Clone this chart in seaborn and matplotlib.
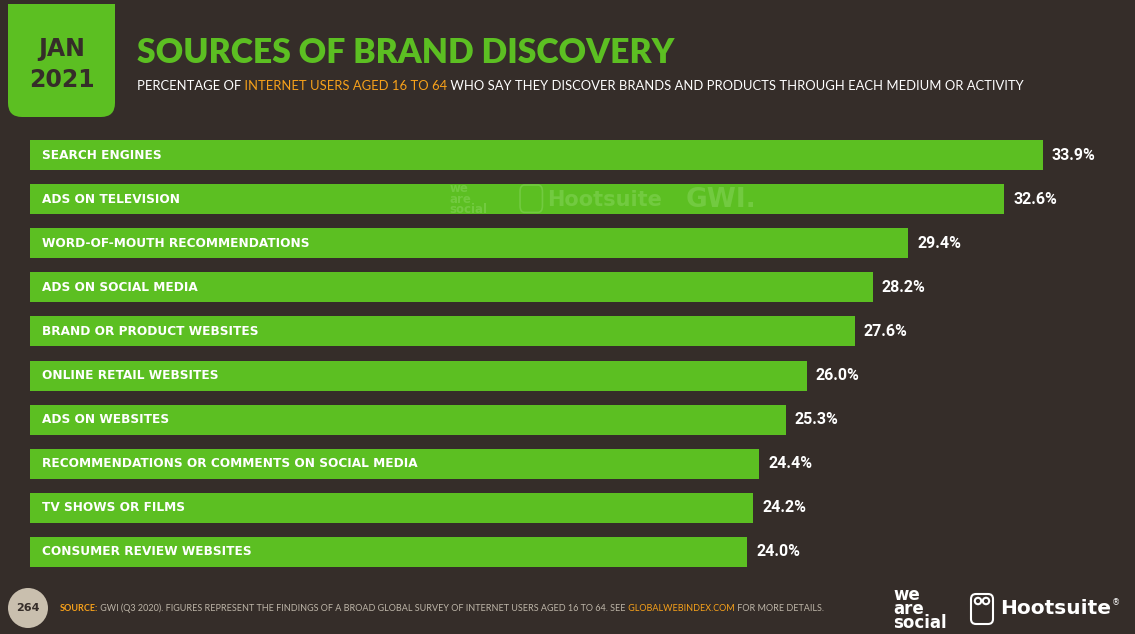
import pandas as pd
import matplotlib.pyplot as plt
import seaborn as sns
from matplotlib.patches import FancyBboxPatch, Circle, Rectangle
from matplotlib.transforms import IdentityTransform

sources = ['SEARCH ENGINES', 'ADS ON TELEVISION', 'WORD-OF-MOUTH RECOMMENDATIONS',
           'ADS ON SOCIAL MEDIA', 'BRAND OR PRODUCT WEBSITES', 'ONLINE RETAIL WEBSITES',
           'ADS ON WEBSITES', 'RECOMMENDATIONS OR COMMENTS ON SOCIAL MEDIA',
           'TV SHOWS OR FILMS', 'CONSUMER REVIEW WEBSITES']
shares = [33.9, 32.6, 29.4, 28.2, 27.6, 26.0, 25.3, 24.4, 24.2, 24.0]

BG = '#352d29'
GREEN = '#5cbf22'
ORANGE = '#f7a11a'
W, H = 1135, 634

df = pd.DataFrame({'source': sources, 'share': shares})

fig = plt.figure(figsize=(W / 100, H / 100), dpi=100, facecolor=BG)
px = IdentityTransform()

# bar area: x=30px is 0%, ~29.88 px per percent
ax = fig.add_axes([30 / W, 1 - 574 / H, 1 - 30 / W, (574 - 133) / H])
ax.set_facecolor(BG)
sns.barplot(data=df, x='share', y='source', orient='h', color=GREEN, saturation=1,
            width=0.68, ax=ax)
ax.set_xlim(0, (W - 30) / 29.88)
ax.set_ylim(9.5, -0.5)
ax.axis('off')

for i, (s, v) in enumerate(zip(sources, shares)):
    ax.text(0.4, i, s, color='white', fontsize=8.7, fontweight='bold',
            family='DejaVu Sans', va='center', ha='left')
    ax.text(v + 0.3, i, f'{v:.1f}%', color='white', fontsize=11.5, fontweight='bold',
            family='Roboto', va='center', ha='left')

# faint watermark inside second bar
wm = '#72ca40'
ax.text(14.05, 1, 'we\nare\nsocial', color=wm, fontsize=8.5, fontweight='bold',
        linespacing=0.72, va='center', ha='left', family='DejaVu Sans')
ax.add_patch(FancyBboxPatch((16.4, 0.68), 0.75, 0.62, boxstyle='round,pad=0,rounding_size=0.15',
                            facecolor='none', edgecolor=wm, linewidth=1.2))
ax.text(17.3, 1.02, 'Hootsuite', color=wm, fontsize=15, fontweight='bold',
        va='center', ha='left', family='DejaVu Sans')
ax.text(21.95, 1.02, 'GWI.', color=wm, fontsize=19, fontweight='heavy',
        va='center', ha='left', family='DejaVu Sans')

# date badge
fig.add_artist(FancyBboxPatch((8, H - 117), 107, 113, boxstyle='round,pad=0,rounding_size=14',
                              transform=px, facecolor=GREEN, edgecolor='none'))
fig.add_artist(Rectangle((8, H - 40), 107, 36, transform=px, facecolor=GREEN, edgecolor='none'))
fig.text(62 / W, 1 - 49 / H, 'JAN', color=BG, fontsize=17, fontweight='bold',
         ha='center', va='center', family='DejaVu Sans')
fig.text(62 / W, 1 - 80 / H, '2021', color=BG, fontsize=17, fontweight='bold',
         ha='center', va='center', family='DejaVu Sans')

# title
fig.text(137 / W, 1 - 53 / H, 'SOURCES OF BRAND DISCOVERY', color=GREEN, fontsize=24.3,
         fontweight='heavy', family='Lato', ha='left', va='center')


def chain(parts, x, y, size, weight='normal'):
    t = fig.text(x, y, parts[0][0], color=parts[0][1], fontsize=size, family='Lato',
                 fontweight=weight if len(parts[0]) < 3 else parts[0][2], ha='left', va='bottom')
    for p in parts[1:]:
        t = ax.annotate(p[0], xy=(1, 0), xycoords=t, color=p[1], fontsize=size, family='Lato',
                        fontweight=weight if len(p) < 3 else p[2], ha='left', va='bottom')
    return t


chain([('PERCENTAGE OF', 'white'),
       (' INTERNET USERS AGED 16 TO 64', ORANGE),
       (' WHO SAY THEY DISCOVER BRANDS AND PRODUCTS THROUGH EACH MEDIUM OR ACTIVITY', 'white')],
      137 / W, 1 - 92 / H, 9.4)

# footer
fig.add_artist(Circle((28, H - 608), 20, transform=px, facecolor='#c9bfae', edgecolor='none'))
fig.text(28 / W, 1 - 608 / H, '264', color=BG, fontsize=8, fontweight='bold',
         ha='center', va='center', family='DejaVu Sans')
chain([('SOURCE:', ORANGE, 'bold'),
       (' GWI (Q3 2020). FIGURES REPRESENT THE FINDINGS OF A BROAD GLOBAL SURVEY OF INTERNET USERS AGED 16 TO 64. SEE', '#bdb5a8'),
       (' GLOBALWEBINDEX.COM', ORANGE),
       (' FOR MORE DETAILS.', '#bdb5a8')],
      60 / W, 1 - 613 / H, 6.5)

fig.text(893 / W, 1 - 609 / H, 'we\nare\nsocial', color='white', fontsize=12, fontweight='bold',
         linespacing=0.7, ha='left', va='center', family='DejaVu Sans')
fig.add_artist(FancyBboxPatch((971, H - 624), 22, 30, boxstyle='round,pad=0,rounding_size=5',
                              transform=px, facecolor='none', edgecolor='white', linewidth=1.5))
for cx in (978, 986):
    fig.add_artist(Circle((cx, H - 601), 3.2, transform=px, facecolor='none',
                          edgecolor='white', linewidth=1.5))
fig.text(1000 / W, 1 - 608 / H, 'Hootsuite', color='white', fontsize=14.5, fontweight='bold',
         ha='left', va='center', family='DejaVu Sans')
fig.text(1112 / W, 1 - 603 / H, '®', color='white', fontsize=6, ha='left', va='center')

fig.savefig('out.png', dpi=100, facecolor=BG)
